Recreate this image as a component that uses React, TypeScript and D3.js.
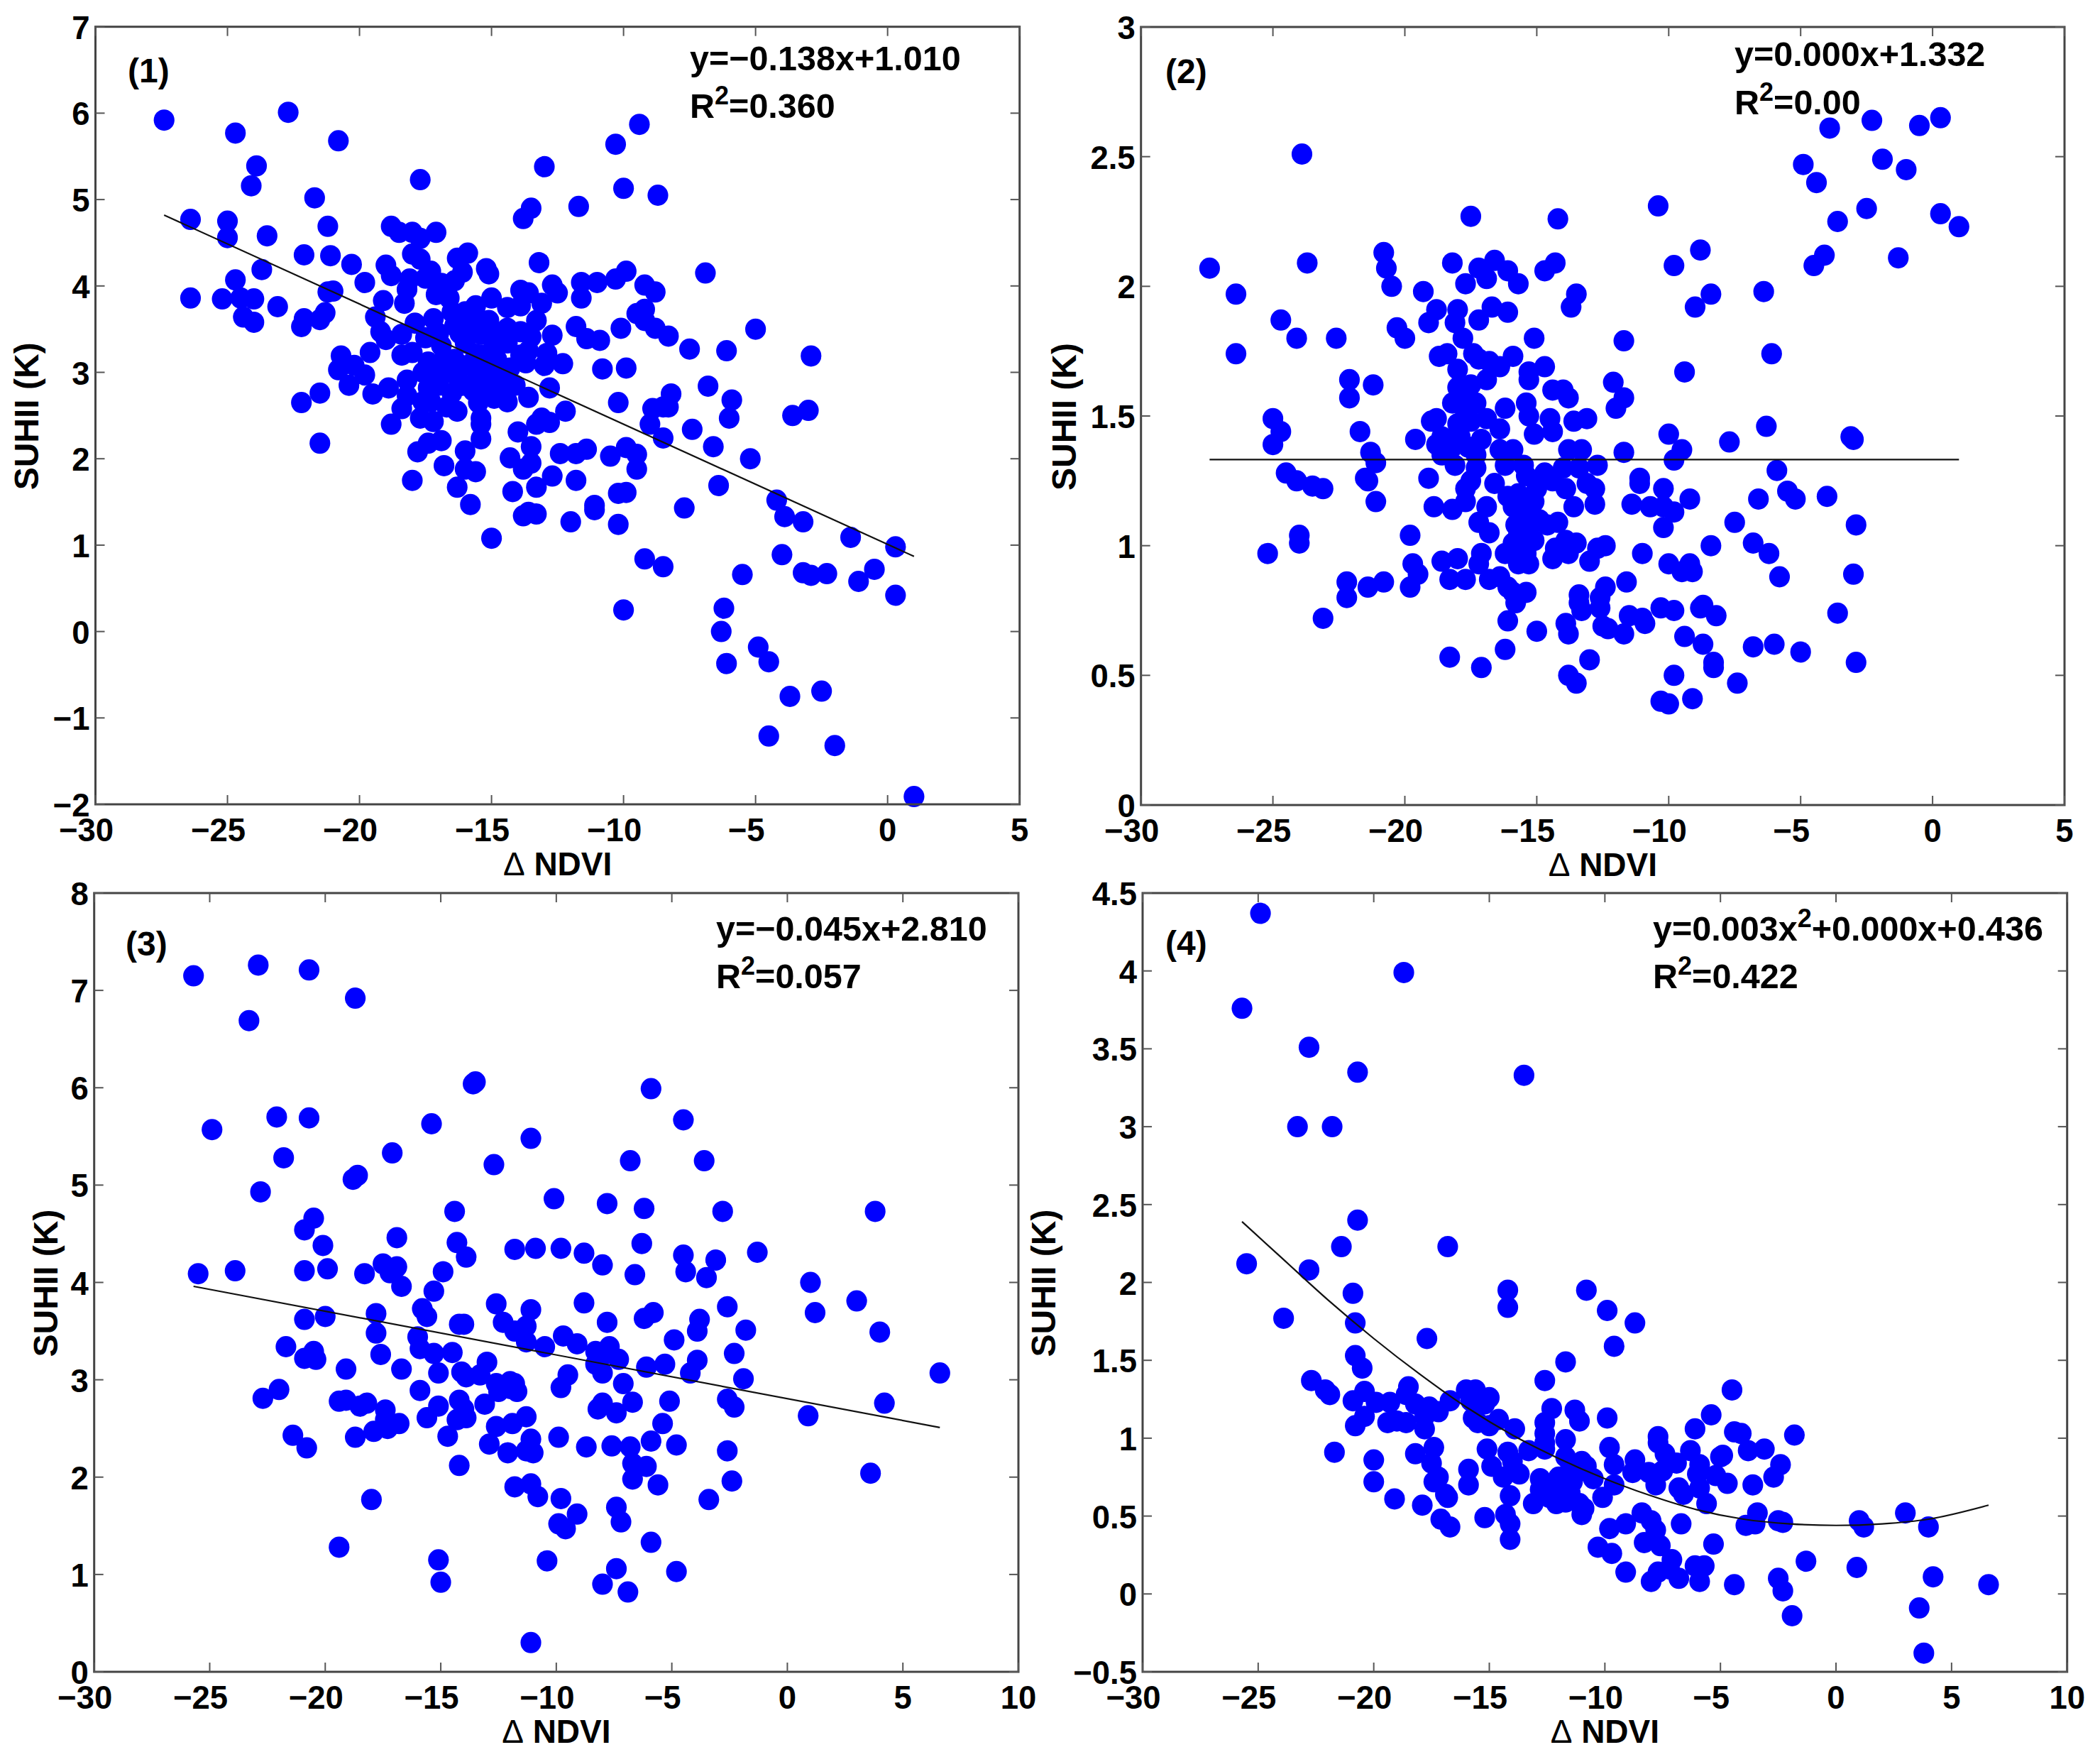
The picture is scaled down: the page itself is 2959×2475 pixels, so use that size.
import * as d3 from 'd3';

type Pt = [number, number];

// [delta NDVI, SUHII]
const points1: Pt[] = [
  [-27.4,5.92],[-22.7,6.01],[-24.7,5.77],[-20.8,5.68],[-23.9,5.39],[-24.1,5.16],[-17.7,5.23],[-13,5.38],[-10.3,5.64],[-9.4,5.87],
  [-10,5.13],[-8.7,5.05],[-13.5,4.9],[-11.7,4.92],[-13.8,4.78],[-21.7,5.02],[-26.4,4.77],[-25,4.75],[-25,4.56],[-23.5,4.58],
  [-21.2,4.69],[-18.8,4.69],[-18.5,4.62],[-18,4.62],[-17.7,4.55],[-17.1,4.62],[-22.1,4.36],[-21.1,4.35],[-23.7,4.19],[-20.3,4.25],
  [-18,4.37],[-17.7,4.31],[-19,4.24],[-18.8,4.12],[-16.3,4.32],[-15.9,4.38],[-13.2,4.27],[-15.2,4.2],[-15.1,4.14],[-17.3,4.17],
  [-16.1,4.16],[-6.9,4.15],[-9.9,4.17],[-10.3,4.08],[-11,4.04],[-11.6,4.04],[-12.7,4.01],[-9.2,4.01],[-24.7,4.07],[-19.8,4.04],
  [-18.1,4.08],[-17.5,4.09],[-16.9,4.03],[-16.4,4.06],[-26.4,3.86],[-25.2,3.85],[-24.5,3.86],[-24,3.85],[-24.4,3.64],[-24,3.58],
  [-23.1,3.76],[-21.2,3.93],[-21,3.94],[-12.5,3.92],[-11.6,3.86],[-8.8,3.93],[-19.1,3.83],[-18.3,3.8],[-18.2,3.96],[-17.1,3.9],
  [-16.6,3.86],[-15,3.86],[-13.9,3.95],[-13.6,3.92],[-13.1,3.8],[-14.4,3.75],[-13.9,3.77],[-15.6,3.77],[-16,3.7],[-9.2,3.73],
  [-9.5,3.68],[-17.2,3.62],[-17.9,3.57],[-15.1,3.6],[-22.1,3.62],[-22.2,3.53],[-21.5,3.61],[-21.3,3.69],[-19.4,3.64],[-13.3,3.6],
  [-9.2,3.6],[-8.8,3.51],[-8.3,3.42],[-11.8,3.53],[-5,3.5],[-19.2,3.47],[-19,3.38],[-18.4,3.44],[-16.4,3.54],[-15.9,3.51],
  [-15.4,3.44],[-14.4,3.51],[-13.9,3.47],[-12.7,3.43],[-13.5,3.41],[-11.4,3.39],[-10.9,3.37],[-10.1,3.51],[-7.5,3.27],[-6.1,3.25],
  [-2.9,3.19],[-14.9,3.31],[-16.9,3.31],[-14.4,3.34],[-16,3.34],[-19.6,3.23],[-20.7,3.19],[-18.4,3.2],[-18,3.23],[-13.6,3.25],
  [-12.9,3.22],[-16.4,3.15],[-17.4,3.12],[-15.1,3.21],[-15.6,3.21],[-12.3,3.1],[-13,3.08],[-13.7,3.11],[-20.2,3.08],[-20.8,3.03],
  [-19.8,2.97],[-10.8,3.04],[-9.9,3.05],[-17.1,2.94],[-15.9,3.08],[-15.4,3.02],[-14.9,3.05],[-16.3,2.95],[-18.2,2.91],[-15.6,2.89],
  [-15,2.89],[-14.5,2.89],[-20.4,2.85],[-18.9,2.82],[-6.8,2.84],[-12.8,2.82],[-17.4,2.82],[-16.5,2.76],[-15.7,2.79],[-19.5,2.75],
  [-8.2,2.75],[-21.5,2.76],[-13.6,2.71],[-14.4,2.66],[-17.6,2.66],[-18.2,2.73],[-17.3,2.66],[-18.4,2.58],[-5.9,2.68],[-22.2,2.65],
  [-10.2,2.65],[-8.5,2.6],[-8.9,2.58],[-8.3,2.6],[-16.3,2.55],[-12.2,2.55],[-17.7,2.47],[-17.2,2.43],[-15.4,2.47],[-18.8,2.4],
  [-15.4,2.4],[-3,2.56],[-3.6,2.5],[-6,2.47],[-13.1,2.47],[-12.8,2.42],[-13.3,2.4],[-9,2.4],[-14,2.31],[-7.4,2.34],
  [-15.4,2.23],[-8.5,2.24],[-21.5,2.18],[-17.4,2.18],[-16.9,2.21],[-16,2.09],[-6.6,2.14],[-13.5,2.14],[-9.9,2.13],[-17.8,2.08],
  [-14.3,2.01],[-12.4,2.06],[-11.4,2.11],[-11.8,2.06],[-10.5,2.03],[-9.5,2.05],[-5.2,2],[-16.8,1.92],[-13.5,1.95],[-13.8,1.88],
  [-9.5,1.88],[-16,1.88],[-15.6,1.85],[-12.7,1.8],[-11.8,1.75],[-18,1.75],[-16.3,1.67],[-13.3,1.67],[-6.4,1.69],[-14.2,1.62],
  [-10.2,1.6],[-9.9,1.61],[-4.2,1.52],[-15.8,1.47],[-11.1,1.41],[-11.1,1.46],[-7.7,1.43],[-3.9,1.33],[-13.8,1.34],[-13.6,1.38],
  [-13.3,1.36],[-12,1.27],[-3.2,1.27],[-10.2,1.24],[-15,1.08],[-1.4,1.09],[0.3,0.98],[-4,0.89],[-9.2,0.84],[-8.5,0.75],
  [-0.5,0.72],[-5.5,0.66],[-3.2,0.68],[-2.9,0.65],[-2.3,0.67],[-1.1,0.58],[0.3,0.42],[-10,0.25],[-6.2,0.27],[-6.3,0],
  [-4.9,-0.18],[-4.5,-0.35],[-6.1,-0.37],[-2.5,-0.69],[-3.7,-0.75],[-4.5,-1.21],[-2,-1.32],[1,-1.91],
  [-15.5,3],[-15,3],[-14.7,2.95],[-15.2,2.8],[-14.5,2.8],[-14.8,3.15],[-15.3,3.2],[-16.1,3.6],[-15.5,3.62],[-14.6,3.45],
  [-16.5,3],[-16.1,2.85],[-16.8,3.15],[-17,3.45],[-17.5,3.4],[-16.5,3.7],[-16.2,3.45],[-15,3.45],[-14.3,3.05],[-14.1,2.85],
  [-14.9,2.7],[-15.5,2.65],[-16.7,2.6],[-17,2.85],[-13.9,3.2],[-17.6,3],
];

const points2: Pt[] = [
  [-27.4,2.07],[-26.4,1.97],[-26.4,1.74],[-23.9,2.51],[-23.7,2.09],[-24.7,1.87],[-24.1,1.8],[-22.6,1.8],[-25,1.49],[-24.7,1.44],
  [-25,1.39],[-24.5,1.28],[-24.1,1.25],[-23.5,1.23],[-23.1,1.22],[-25.2,0.97],[-24,1.04],[-24,1.01],[-23.1,0.72],[-22.1,1.64],
  [-22.1,1.57],[-21.7,1.44],[-21.2,1.62],[-21.3,1.36],[-21.1,1.32],[-21.5,1.26],[-21.4,1.25],[-21.1,1.17],[-22.2,0.86],[-22.2,0.8],
  [-21.4,0.84],[-20.8,0.86],[-20.8,2.13],[-20.7,2.07],[-20.5,2],[-20.3,1.84],[-20,1.8],[-19.3,1.98],[-18.8,1.91],[-19.1,1.86],
  [-18.2,2.09],[-17.5,2.27],[-17.2,2.07],[-17.7,2.01],[-16.9,2.03],[-16.6,2.1],[-16.1,2.06],[-15.7,2.01],[-14.7,2.06],[-14.3,2.09],
  [-14.2,2.26],[-10.4,2.31],[-8.8,2.14],[-9.8,2.08],[-8.4,1.97],[-9,1.92],[-6.4,1.98],[-13.5,1.97],[-13.7,1.92],[-18,1.91],
  [-18.1,1.86],[-17.2,1.87],[-16.7,1.92],[-16.1,1.9],[-17.8,1.8],[-15.1,1.8],[-11.7,1.79],[-6.1,1.74],[-18.7,1.73],[-18.4,1.74],
  [-17.4,1.74],[-15.9,1.73],[-17.2,1.72],[-16.8,1.71],[-16.4,1.69],[-18,1.68],[-15.3,1.67],[-14.7,1.69],[-15.3,1.64],[-16.9,1.64],
  [-9.4,1.67],[-12.1,1.63],[-14.4,1.6],[-14,1.6],[-18,1.61],[-11.7,1.57],[-13.8,1.57],[-17.8,1.58],[-18.2,1.55],[-17.3,1.55],
  [-15.4,1.55],[-12,1.53],[-16.2,1.53],[-17.7,1.51],[-15.3,1.5],[-13.1,1.49],[-13.6,1.48],[-14.5,1.49],[-16.9,1.49],[-19,1.48],
  [-18.8,1.49],[-18,1.47],[-16.4,1.45],[-14.4,1.44],[-6.3,1.46],[-10,1.43],[-15.1,1.43],[-19.6,1.41],[-18.6,1.42],[-3.1,1.42],
  [-3,1.41],[-17.1,1.41],[-18.1,1.42],[-7.7,1.4],[-18.8,1.39],[-18.2,1.38],[-17.6,1.38],[-9.5,1.37],[-16.4,1.37],[-15.9,1.37],
  [-13.8,1.37],[-13.3,1.37],[-11.7,1.36],[-18.6,1.35],[-17.3,1.35],[-18.1,1.31],[-9.8,1.33],[-16.2,1.31],[-12.7,1.31],[-5.9,1.29],
  [-15.5,1.31],[-14.7,1.28],[-14,1.3],[-13.4,1.3],[-17.3,1.3],[-11.1,1.26],[-19.1,1.26],[-15.4,1.27],[-14.4,1.25],[-17.5,1.25],
  [-16.6,1.24],[-13.1,1.24],[-11.1,1.24],[-10.2,1.22],[-13.9,1.22],[-12.8,1.22],[-17.7,1.22],[-5.5,1.21],[-15.7,1.2],[-16.1,1.19],
  [-6.6,1.18],[-5.2,1.18],[-9.2,1.18],[-4,1.19],[-17.7,1.17],[-15.1,1.17],[-13.6,1.15],[-11.4,1.16],[-12.8,1.16],[-10.7,1.15],
  [-18.9,1.15],[-18.2,1.14],[-16.9,1.15],[-15.9,1.15],[-10.2,1.15],[-9.8,1.13],[-15.4,1.14],[-14.9,1.1],[-7.5,1.09],[-17.2,1.09],
  [-14.6,1.08],[-15.8,1.08],[-14.2,1.09],[-2.9,1.08],[-10.2,1.07],[-16.8,1.05],[-19.8,1.04],[-15.3,1.06],[-15.7,1.04],[-13.9,1.02],
  [-6.8,1.01],[-13.5,1.01],[-8.4,1],[-15.9,1.01],[-12.4,1],[-12.7,0.99],[-14.3,0.99],[-6.2,0.97],[-13.8,0.97],[-11,0.97],
  [-17.1,0.97],[-16.2,0.97],[-15.4,0.97],[-18.6,0.94],[-18,0.95],[-17.2,0.93],[-14.4,0.95],[-13,0.94],[-10,0.93],[-19.7,0.93],
  [-15.7,0.93],[-15.3,0.93],[-9.2,0.93],[-9.5,0.9],[-9.1,0.9],[-19.5,0.89],[-3,0.89],[-5.8,0.88],[-18.3,0.87],[-17.7,0.87],
  [-16.8,0.87],[-16.4,0.88],[-11.6,0.86],[-19.8,0.84],[-12.4,0.84],[-16.1,0.84],[-15.4,0.82],[-13.4,0.81],[-15.9,0.82],[-12.6,0.8],
  [-15.8,0.78],[-13.4,0.78],[-8.7,0.77],[-10.3,0.76],[-9.8,0.75],[-12.6,0.76],[-13.3,0.75],[-8.8,0.76],[-8.2,0.73],[-3.6,0.74],
  [-11.5,0.73],[-10.9,0.7],[-16.1,0.71],[-11,0.72],[-12.5,0.69],[-13.9,0.7],[-12.3,0.68],[-13.8,0.66],[-11.7,0.66],[-15,0.67],
  [-9.4,0.65],[-6,0.62],[-6.8,0.61],[-8.7,0.62],[-16.2,0.6],[-5,0.59],[-18.3,0.57],[-13,0.56],[-8.3,0.55],[-8.3,0.53],
  [-17.1,0.53],[-2.9,0.55],[-9.8,0.5],[-13.8,0.5],[-13.5,0.47],[-7.4,0.47],[-9.1,0.41],[-10.3,0.4],[-10,0.39],[-3.9,2.61],
  [-2.3,2.64],[-0.5,2.62],[0.3,2.65],[-4.9,2.47],[-1.9,2.49],[-1,2.45],[-4.4,2.4],[-2.5,2.3],[0.3,2.28],[1,2.23],
  [-3.6,2.25],[-1.3,2.11],[-4.1,2.12],[-4.5,2.08],
  [-15.5,1.12],[-15.1,1.02],[-15.6,1],[-15.2,1.1],[-15,1.22],[-17.5,1.48],[-17.9,1.42],[-17.5,1.62],
];

const points3: Pt[] = [
  [-25.7,7.15],[-22.9,7.26],[-20.7,7.21],[-18.7,6.92],[-23.3,6.69],[-13.6,6.04],[-13.5,6.06],[-5.9,5.99],[-4.5,5.67],[-15.4,5.63],
  [-22.1,5.7],[-20.7,5.69],[-24.9,5.57],[-11.1,5.48],[-21.8,5.28],[-17.1,5.33],[-6.8,5.25],[-3.6,5.25],[-12.7,5.21],[-18.6,5.1],
  [-18.8,5.06],[-22.8,4.93],[-10.1,4.86],[-7.8,4.81],[-6.2,4.76],[-14.4,4.73],[-2.8,4.73],[3.8,4.73],[-20.5,4.66],[-20.9,4.54],
  [-16.9,4.46],[-14.3,4.41],[-20.1,4.38],[-6.3,4.4],[-11.8,4.34],[-10.9,4.35],[-9.8,4.35],[-8.8,4.3],[-4.5,4.28],[-13.9,4.26],
  [-3.1,4.23],[-1.3,4.31],[-8,4.18],[-17.5,4.19],[-16.9,4.16],[-17.2,4.1],[-14.9,4.11],[-18.3,4.09],[-19.9,4.14],[-20.9,4.12],
  [-25.5,4.09],[-23.9,4.12],[-4.4,4.11],[-6.6,4.08],[-3.5,4.05],[1,4],[-16.7,3.96],[-15.3,3.91],[-12.6,3.78],[-8.8,3.79],
  [-2.6,3.75],[-15.8,3.73],[-11.1,3.72],[-17.8,3.68],[-15.6,3.65],[-5.8,3.69],[-6.2,3.63],[1.2,3.69],[3,3.81],[-3.8,3.62],
  [-20.9,3.62],[-20,3.65],[-7.8,3.59],[-12.3,3.59],[-14.2,3.57],[-14,3.57],[-11.3,3.55],[-11.8,3.5],[-1.8,3.51],[4,3.49],
  [-17.8,3.48],[-3.9,3.5],[-9.7,3.45],[-9.1,3.37],[-4.9,3.41],[-16,3.44],[-11.3,3.39],[-10.5,3.34],[-21.7,3.34],[-15.9,3.32],
  [-15.3,3.27],[-14.5,3.28],[-7.7,3.34],[-8.3,3.29],[-8,3.25],[-17.6,3.26],[-2.3,3.27],[-20.5,3.29],[-20.9,3.22],[-20.4,3.21],
  [-13,3.18],[-7.3,3.21],[-3.9,3.2],[-5.3,3.16],[-8.3,3.16],[-6.1,3.13],[-19.1,3.11],[-16.7,3.11],[-8,3.07],[-14.1,3.08],
  [-15.1,3.07],[-13.9,3.03],[-13.3,3.05],[-4.2,3.07],[-9.5,3.05],[6.6,3.07],[-1.9,3.01],[-7.1,2.96],[-12.6,2.96],[-12,2.98],
  [-11.8,2.96],[-12.5,2.88],[-12,2.91],[-11.7,2.88],[-9.8,2.92],[-15.9,2.89],[-22,2.9],[-22.7,2.81],[-19.4,2.78],[-19.1,2.79],
  [-18.5,2.73],[-18.2,2.76],[-2.6,2.8],[-5.1,2.78],[-6.7,2.77],[-8,2.76],[-14.2,2.79],[-13.1,2.75],[-2.3,2.72],[4.2,2.76],
  [-15.1,2.73],[-14,2.7],[-8.2,2.7],[-7.4,2.66],[-17.4,2.69],[0.9,2.63],[-11.3,2.62],[-15.6,2.61],[-13.9,2.61],[-14.3,2.59],
  [-17.4,2.59],[-16.8,2.55],[-11.9,2.55],[-12.6,2.52],[-5.4,2.55],[-17.3,2.5],[-17.9,2.47],[-18.7,2.41],[-21.4,2.43],[-14.7,2.42],
  [-9.9,2.41],[-11.1,2.39],[-5.9,2.37],[-12.9,2.34],[-7.6,2.32],[-4.8,2.33],[-8.7,2.31],[-20.8,2.3],[-6.8,2.31],[-11.3,2.27],
  [-11,2.25],[-12.1,2.25],[-2.6,2.27],[-6.7,2.14],[-14.2,2.12],[-6.1,2.11],[3.6,2.04],[-2.4,1.96],[-6.7,1.98],[-11.1,1.93],
  [-11.8,1.9],[-5.6,1.92],[-18,1.77],[-10.8,1.8],[-9.8,1.78],[-3.4,1.77],[-7.4,1.69],[-9.1,1.62],[-7.2,1.54],[-9.9,1.52],
  [-9.6,1.47],[-5.9,1.33],[-19.4,1.28],[-15.1,1.15],[-10.4,1.14],[-4.8,1.03],[-7.4,1.06],[-15,0.92],[-8,0.9],[-6.9,0.82],
  [-11.1,0.3],
];

const points4: Pt[] = [
  [-24.9,4.37],[-18.7,3.99],[-25.7,3.76],[-22.8,3.51],[-20.7,3.35],[-13.5,3.33],[-23.3,3],[-21.8,3],[-20.7,2.4],[-21.4,2.23],
  [-16.8,2.23],[-25.5,2.12],[-22.8,2.08],[-14.2,1.95],[-10.8,1.95],[-20.9,1.93],[-14.2,1.84],[-9.9,1.82],[-23.9,1.77],[-8.7,1.74],
  [-20.8,1.74],[-17.7,1.64],[-9.6,1.59],[-20.8,1.53],[-11.7,1.49],[-20.5,1.45],[-22.7,1.37],[-12.6,1.37],[-22.1,1.31],[-4.5,1.31],
  [-21.9,1.28],[-18.5,1.33],[-20.4,1.3],[-16,1.31],[-15.6,1.31],[-18.6,1.28],[-15,1.26],[-20.9,1.24],[-19.9,1.23],[-19.3,1.23],
  [-16.7,1.24],[-18.2,1.22],[-15.8,1.24],[-15.2,1.22],[-12.3,1.19],[-11.3,1.18],[-17.6,1.2],[-17.2,1.17],[-20.4,1.14],[-17.8,1.14],
  [-5.4,1.15],[-11.1,1.11],[-15.7,1.13],[-9.9,1.13],[-19.4,1.1],[-18.6,1.1],[-19,1.11],[-15.5,1.1],[-15,1.08],[-14.6,1.12],
  [-12.6,1.1],[-20.8,1.08],[-17.8,1.06],[-13.9,1.06],[-6.1,1.06],[-4.4,1.04],[-4.1,1.03],[-1.8,1.02],[-7.7,1.01],[-12.6,1.03],
  [-11.7,0.99],[-7.7,0.97],[-12.6,0.97],[-21.7,0.91],[-17.4,0.94],[-15.1,0.93],[-9.8,0.94],[-18.2,0.9],[-14.2,0.91],[-6.3,0.92],
  [-7.4,0.9],[-3.8,0.92],[-3.1,0.93],[-13.3,0.92],[-4.9,0.89],[-5,0.88],[-12.6,0.93],[-20,0.86],[-11.7,0.88],[-8.7,0.86],
  [-6.9,0.84],[-2.4,0.83],[-9.6,0.83],[-11,0.85],[-17.5,0.84],[-5.9,0.83],[-14.9,0.82],[-14,0.85],[-15.9,0.8],[-10.8,0.82],
  [-8.1,0.78],[-8.8,0.78],[-7.5,0.79],[-6,0.77],[-5.2,0.76],[-2.7,0.75],[-10.5,0.74],[-17.2,0.75],[-14.4,0.75],[-13.7,0.77],
  [-12.8,0.74],[-11.8,0.74],[-4.7,0.71],[-3.6,0.7],[-20,0.72],[-17.4,0.72],[-15.9,0.7],[-7.8,0.7],[-12.3,0.7],[-11.4,0.72],
  [-9.6,0.7],[-6.8,0.68],[-5.9,0.68],[-12.8,0.67],[-12,0.67],[-16.9,0.64],[-6.6,0.64],[-14.1,0.63],[-10.1,0.62],[-16.8,0.62],
  [-5.6,0.58],[-19.1,0.61],[-13.1,0.58],[-17.9,0.57],[-12.1,0.58],[-11.1,0.58],[-11.7,0.59],[-10.9,0.55],[-11,0.51],[-8.4,0.52],
  [-3.4,0.52],[3,0.52],[-14.3,0.51],[-15.2,0.49],[-17.1,0.48],[-2.5,0.47],[1,0.47],[-8,0.47],[-2.3,0.46],[-3.9,0.44],
  [-3.5,0.45],[-9.1,0.45],[-6.7,0.45],[-14.1,0.45],[1.2,0.43],[4,0.43],[-9.8,0.42],[-16.7,0.43],[-7.8,0.41],[-14.1,0.35],
  [-8.3,0.33],[-7.6,0.31],[-5.3,0.32],[-10.3,0.3],[-9.7,0.26],[-1.3,0.21],[-7.1,0.22],[-6.1,0.18],[-5.7,0.18],[0.9,0.17],
  [-9.1,0.14],[-7.7,0.14],[-7.2,0.16],[-2.5,0.1],[4.2,0.11],[-6.8,0.1],[-8,0.08],[-5.9,0.08],[-4.4,0.06],[6.6,0.06],
  [-2.3,0.02],[3.6,-0.09],[-1.9,-0.14],[3.8,-0.38],
  [-12,0.75],[-11.5,0.65],[-11.9,0.62],[-11.2,0.78],[-12.4,0.62],[-11.5,0.8],
];

const fit1: Pt[] = [[-27.4,4.82],[1,0.87]];
const fit2: Pt[] = [[-27.4,1.332],[1,1.332]];
const fit3: Pt[] = [[-25.7,3.96],[6.6,2.51]];
const fit4: Pt[] = [
  [-25.7,2.39],[-24,2.16],[-22,1.89],[-20,1.64],[-18,1.41],[-16,1.2],[-14,1.02],[-12,0.87],[-10,0.74],
  [-8,0.63],[-6,0.54],[-4,0.48],[-2,0.45],[0,0.44],[2,0.45],[4,0.48],[6.6,0.57],
];

const xTicksTop = [-30,-25,-20,-15,-10,-5,0,5];
const xTicksBottom = [-30,-25,-20,-15,-10,-5,0,5,10];
const yTicks1 = [-2,-1,0,1,2,3,4,5,6,7];
const yTicks2 = [0,0.5,1,1.5,2,2.5,3];
const yTicks3 = [0,1,2,3,4,5,6,7,8];
const yTicks4 = [-0.5,0,0.5,1,1.5,2,2.5,3,3.5,4,4.5];

const fmt = (v: number) => String(v).replace('-', '\u2212');
const FONT = '"Liberation Sans", Arial, sans-serif';

type PanelProps = {
  frame: { left: number; right: number; top: number; bottom: number };
  xTicks: number[];
  yTicks: number[];
  points: Pt[];
  fit: Pt[];
  tag: string;
  tagPos: [number, number];
  eq: string;
  eqSup?: boolean;
  r2: string;
  textPos: [number, number, number];
  ylabelX: number;
};

function Panel({ frame, xTicks, yTicks, points, fit, tag, tagPos, eq, eqSup, r2, textPos, ylabelX }: PanelProps) {
  const { left, right, top, bottom } = frame;
  const x = d3.scaleLinear().domain(d3.extent(xTicks) as [number, number]).range([left, right]);
  const y = d3.scaleLinear().domain(d3.extent(yTicks) as [number, number]).range([bottom, top]);
  const line = d3.line<Pt>().x((d) => x(d[0])).y((d) => y(d[1])).curve(d3.curveMonotoneX);
  const tick = 13;
  const midX = (left + right) / 2;
  const midY = (top + bottom) / 2;
  const eqParts = eq.split('^2');

  return (
    <g fontFamily={FONT} fontWeight="bold" fill="#000">
      {points.map((p, i) => (
        <ellipse key={i} cx={x(p[0])} cy={y(p[1])} rx={14.6} ry={15} fill="#0000ff" />
      ))}
      <path d={line(fit) ?? ''} fill="none" stroke="#111" strokeWidth={2.2} />
      <rect x={left} y={top} width={right - left} height={bottom - top} fill="none" stroke="#444" strokeWidth={3} />
      {xTicks.map((t) => (
        <g key={t}>
          <line x1={x(t)} x2={x(t)} y1={bottom} y2={bottom - tick} stroke="#555" strokeWidth={2} />
          <line x1={x(t)} x2={x(t)} y1={top} y2={top + tick} stroke="#555" strokeWidth={2} />
          {/* digits sit centred on the tick, the minus hangs out to the left */}
          <text x={x(t) - (t < 0 ? 13 : 0)} y={bottom + 52} textAnchor="middle" fontSize={45.5}>{fmt(t)}</text>
        </g>
      ))}
      {yTicks.map((t) => (
        <g key={t}>
          <line x1={left} x2={left + tick} y1={y(t)} y2={y(t)} stroke="#555" strokeWidth={2} />
          <line x1={right} x2={right - tick} y1={y(t)} y2={y(t)} stroke="#555" strokeWidth={2} />
          <text x={left - 8} y={y(t) + 17} textAnchor="end" fontSize={45.5}>{fmt(t)}</text>
        </g>
      ))}
      <text x={midX} y={bottom + 100} textAnchor="middle" fontSize={46}>
        <tspan fontWeight="normal">Δ</tspan> NDVI
      </text>
      <text transform={`translate(${ylabelX},${midY + 1}) rotate(-90)`} textAnchor="middle" fontSize={48}>SUHII (K)</text>
      <text x={tagPos[0]} y={tagPos[1]} fontSize={48}>{tag}</text>
      <text x={textPos[0]} y={textPos[1]} fontSize={48.5}>
        {eqParts[0]}
        {eqSup && <tspan dy={-19} fontSize={36}>2</tspan>}
        {eqSup && <tspan dy={19}>{eqParts[1]}</tspan>}
      </text>
      <text x={textPos[0]} y={textPos[2]} fontSize={48.5}>
        R<tspan dy={-19} fontSize={36}>2</tspan><tspan dy={19}>{r2}</tspan>
      </text>
    </g>
  );
}

export default function App() {
  return (
    <svg
      width={2959}
      height={2475}
      viewBox="0 0 2959 2475"
      style={{ position: 'absolute', left: 0, top: 0, background: '#fff' }}
    >
      <Panel
        frame={{ left: 134.5, right: 1436.7, top: 37.7, bottom: 1133 }}
        xTicks={xTicksTop}
        yTicks={yTicks1}
        points={points1}
        fit={fit1}
        tag="(1)"
        tagPos={[180, 116]}
        eq={'y=\u22120.138x+1.010'}
        r2="=0.360"
        textPos={[972, 99, 166]}
        ylabelX={54}
      />
      <Panel
        frame={{ left: 1607.7, right: 2909, top: 38, bottom: 1134 }}
        xTicks={xTicksTop}
        yTicks={yTicks2}
        points={points2}
        fit={fit2}
        tag="(2)"
        tagPos={[1642, 117]}
        eq="y=0.000x+1.332"
        r2="=0.00"
        textPos={[2444, 93, 161]}
        ylabelX={1516}
      />
      <Panel
        frame={{ left: 132.7, right: 1435, top: 1258, bottom: 2355 }}
        xTicks={xTicksBottom}
        yTicks={yTicks3}
        points={points3}
        fit={fit3}
        tag="(3)"
        tagPos={[177, 1346]}
        eq={'y=\u22120.045x+2.810'}
        r2="=0.057"
        textPos={[1009, 1325, 1392]}
        ylabelX={81}
      />
      <Panel
        frame={{ left: 1610, right: 2912.7, top: 1258, bottom: 2355 }}
        xTicks={xTicksBottom}
        yTicks={yTicks4}
        points={points4}
        fit={fit4}
        tag="(4)"
        tagPos={[1642, 1345]}
        eq="y=0.003x^2+0.000x+0.436"
        eqSup
        r2="=0.422"
        textPos={[2329, 1325, 1392]}
        ylabelX={1487}
      />
    </svg>
  );
}
